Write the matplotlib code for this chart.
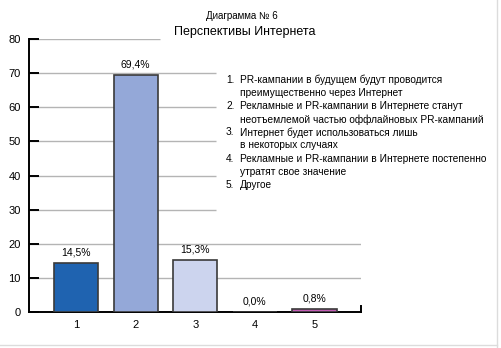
import matplotlib.pyplot as plt
from matplotlib.lines import Line2D

plt.rcParams['font.family'] = ['Liberation Sans', 'DejaVu Sans']

# --- Данные ---
categories = [1, 2, 3, 4, 5]
values = [14.5, 69.4, 15.3, 0.0, 0.8]
value_labels = ['14,5%', '69,4%', '15,3%', '0,0%', '0,8%']
bar_colors = ['#1f63b0', '#94a8d8', '#ccd4ee', '#ffffff', '#c35cb4']
item_numbers = ['1.', '2.', '3.', '4.', '5.']
item_texts = [
    ['PR-кампании в будущем будут проводится', 'преимущественно через Интернет'],
    ['Рекламные и PR-кампании в Интернете станут', 'неотъемлемой частью оффлайновых PR-кампаний'],
    ['Интернет будет использоваться лишь', 'в некоторых случаях'],
    ['Рекламные и PR-кампании в Интернете постепенно', 'утратят свое значение'],
    ['Другое'],
]
yticks = [0, 10, 20, 30, 40, 50, 60, 70, 80]
# сетка обрезана там, где стоит заголовок и подписи
grid_ends = [5.78, 5.78, 5.78, 3.34, 3.34, 3.34, 3.34, 3.34, 2.41]

W, H = 501, 348
fig = plt.figure(figsize=(W / 100, H / 100), dpi=100)
ax = fig.add_axes([29 / W, (H - 312) / H, (361 - 29) / W, (312 - 39) / H])

x0, x1 = 0.21, 5.78
for y, xe in zip(yticks, grid_ends):
    if y == 0:
        continue
    ax.hlines(y, x0, xe, color='#b4b4b4', lw=1.0, zorder=1)

ax.bar(categories, values, width=0.74, color=bar_colors,
       edgecolor='#3a3a3a', linewidth=1.2, zorder=3)

for x, v, lab in zip(categories, values, value_labels):
    ax.annotate(lab, (x, v), xytext=(0, 7.5), textcoords='offset points',
                ha='center', va='center', fontsize=7.5)

ax.set_xlim(x0, x1)
ax.set_ylim(0, 80)
ax.set_yticks(yticks)
ax.set_xticks(categories)
ax.tick_params(axis='y', direction='in', length=7.5, width=1.4, labelsize=8, pad=6)
ax.tick_params(axis='x', length=0, labelsize=8, pad=6)
for s in ['top', 'right']:
    ax.spines[s].set_visible(False)
for s in ['left', 'bottom']:
    ax.spines[s].set_linewidth(1.4)
ax.plot([x1, x1], [0, 1.9], color='black', lw=1.4, clip_on=False, zorder=4)

# --- Заголовок ---
fig.text(242 / W, 1 - 16 / H, 'Диаграмма № 6', ha='center', va='center', fontsize=7)
fig.text(245 / W, 1 - 32 / H, 'Перспективы Интернета', ha='center', va='center', fontsize=9)

# --- Расшифровка категорий ---
y = 80
for num, lines in zip(item_numbers, item_texts):
    fig.text(226 / W, 1 - y / H, num, ha='left', va='center', fontsize=7.3)
    for line in lines:
        fig.text(240 / W, 1 - y / H, line, ha='left', va='center', fontsize=7.3)
        y += 13.1

# рамка справа и снизу
fig.add_artist(Line2D([497 / W, 497 / W], [0, 1], color='#dcdcdc', lw=1))
fig.add_artist(Line2D([0, 497 / W], [1 - 345 / H, 1 - 345 / H], color='#dcdcdc', lw=1))

fig.savefig('out.png', dpi=100)
